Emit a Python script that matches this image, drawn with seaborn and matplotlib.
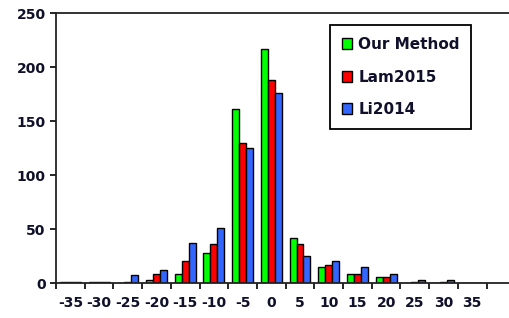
import pandas as pd
import seaborn as sns
import matplotlib.pyplot as plt
import numpy as np

# Data
bins = ["-35", "-30", "-25", "-20", "-15", "-10", "-5", "0", "5", "10", "15", "20", "25", "30", "35"]
our_method = [1, 1, 0, 3, 8, 28, 161, 217, 42, 15, 8, 6, 0, 0, 0]
lam2015 = [1, 1, 1, 8, 20, 36, 130, 188, 36, 17, 8, 6, 1, 1, 0]
li2014 = [1, 1, 7, 12, 37, 51, 125, 176, 25, 20, 15, 8, 3, 3, 0]
series = ["Our Method", "Lam2015", "Li2014"]
colors = ["#00ff00", "#ff0000", "#3366ff"]

df = pd.DataFrame({"bin": bins * 3,
                   "count": our_method + lam2015 + li2014,
                   "method": np.repeat(series, len(bins))})

plt.rcParams["font.family"] = ["DejaVu Sans"]
plt.rcParams["font.weight"] = "bold"

fig = plt.figure(figsize=(5.09, 3.18), dpi=100)
ax = fig.add_axes([0.11, 0.11, 0.89, 0.848])

sns.barplot(ax=ax, data=df, x="bin", y="count", hue="method",
            palette=colors, width=0.73, edgecolor="black", linewidth=1.0,
            saturation=1, legend=True)

ax.set_ylim(0, 250)
ax.set_xlim(-0.5, 15.28)
ax.set_xlabel("")
ax.set_ylabel("")
ax.set_yticks(range(0, 251, 50))

# labels centred on groups, tick marks between groups
ax.set_xticks(range(len(bins)))
ax.set_xticklabels(bins)
ax.set_xticks(np.arange(-0.5, 15, 1), minor=True)
ax.tick_params(axis="x", which="major", length=0, pad=9, labelsize=10, labelcolor="#10102a")
ax.tick_params(axis="x", which="minor", length=4, width=1.2, color="black")
ax.tick_params(axis="y", length=4, width=1.2, labelsize=10, labelcolor="#10102a")
for lab in ax.get_xticklabels() + ax.get_yticklabels():
    lab.set_fontweight("bold")

ax.spines["right"].set_visible(False)
for s in ["left", "bottom", "top"]:
    ax.spines[s].set_linewidth(1.3)
    ax.spines[s].set_color("#222222")

leg = ax.legend(loc="upper left", bbox_to_anchor=(0.605, 0.955), frameon=True,
                fancybox=False, edgecolor="black", framealpha=1,
                handlelength=0.7, handleheight=0.7, handletextpad=0.4,
                labelspacing=1.15, borderpad=0.75, borderaxespad=0,
                prop={"weight": "bold", "size": 11})
leg.get_frame().set_linewidth(1.3)
for t in leg.get_texts():
    t.set_color("#10102a")

fig.savefig("out.png", dpi=100)
